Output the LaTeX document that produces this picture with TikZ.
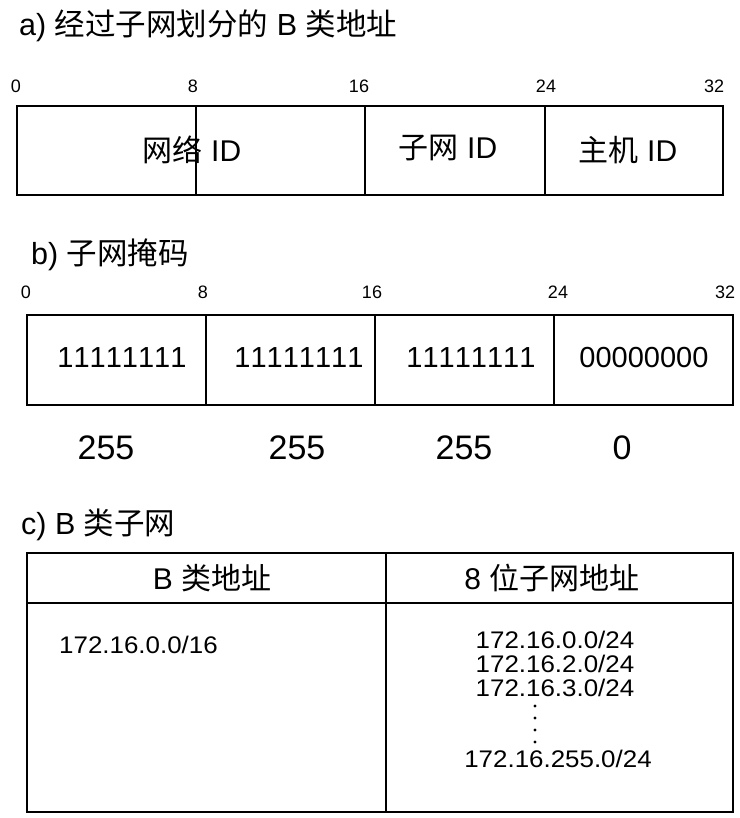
\documentclass[tikz,border=0pt]{standalone}
\usepackage{fontspec}
\setmainfont{Liberation Sans}[Kerning=Off]
\newfontfamily\cjk{Noto Sans CJK SC}
\newcommand{\wide}[1]{\scalebox{1.08}[1]{#1}}
\begin{document}
\begin{tikzpicture}[x=1pt,y=-1pt,
  title/.style={anchor=west,inner sep=0pt,font=\fontsize{30.5}{33}\selectfont},
  tick/.style={inner sep=0pt,font=\fontsize{18}{20}\selectfont},
  field/.style={inner sep=0pt,font=\fontsize{30}{32}\selectfont},
  bits/.style={inner sep=0pt,font=\fontsize{29}{31}\selectfont},
  dec/.style={inner sep=0pt,font=\fontsize{34}{36}\selectfont},
  addr/.style={inner sep=0pt,font=\fontsize{24}{26}\selectfont},
  frame/.style={line width=1.5pt},
  tframe/.style={line width=2pt}]
\useasboundingbox (0,0) rectangle (739,818);
% ---- a)
\node[title] (ta) at (19,26) {a) {\cjk 经过子网划分的} B {\cjk 类地址}};
\node[tick] (a0) at (16,86) {0};
\node[tick] (a8) at (193,86) {8};
\node[tick] (a16) at (359,86) {16};
\node[tick] (a24) at (546,86) {24};
\node[tick] (a32) at (714,86) {32};
\draw[frame] (17,106) rectangle (723,195);
\draw[frame] (196,106) -- (196,195);
\draw[frame] (365,106) -- (365,195);
\draw[frame] (545,106) -- (545,195);
\node[field] (fnet) at (192,150) {{\cjk 网络} ID};
\node[field] (fsub) at (448,148) {{\cjk 子网} ID};
\node[field] (fhost) at (628,150) {{\cjk 主机} ID};
% ---- b)
\node[title] (tb) at (31,255) {b) {\cjk 子网掩码}};
\node[tick] (b0) at (26,292) {0};
\node[tick] (b8) at (203,292) {8};
\node[tick] (b16) at (372,292) {16};
\node[tick] (b24) at (558,292) {24};
\node[tick] (b32) at (725,292) {32};
\draw[frame] (27,315) rectangle (733,405);
\draw[frame] (206,315) -- (206,405);
\draw[frame] (375,315) -- (375,405);
\draw[frame] (554,315) -- (554,405);
\node[bits] (m1) at (122,358) {11111111};
\node[bits] (m2) at (299,358) {11111111};
\node[bits] (m3) at (471,358) {11111111};
\node[bits] (m4) at (644,358) {00000000};
\node[dec] (d1) at (106,448) {255};
\node[dec] (d2) at (297,448) {255};
\node[dec] (d3) at (464,448) {255};
\node[dec] (d4) at (622,448) {0};
% ---- c)
\node[title] (tc) at (21,525) {c) B {\cjk 类子网}};
\draw[tframe] (27,553) rectangle (733,812);
\draw[tframe] (27,603) -- (733,603);
\draw[tframe] (386,553) -- (386,812);
\node[field] (h1) at (212,578) {B {\cjk 类地址}};
\node[field] (h2) at (552,578) {8 {\cjk 位子网地址}};
\node[addr,anchor=west] (l1) at (59,645) {\wide{172.16.0.0/16}};
\node[addr] (r1) at (555,640) {\wide{172.16.0.0/24}};
\node[addr] (r2) at (555,664) {\wide{172.16.2.0/24}};
\node[addr] (r3) at (555,688) {\wide{172.16.3.0/24}};
\foreach \yy in {706,718,730,742} \fill (535,\yy) circle (1.7);
\node[addr] (r4) at (558,759) {\wide{172.16.255.0/24}};
\end{tikzpicture}
\end{document}
